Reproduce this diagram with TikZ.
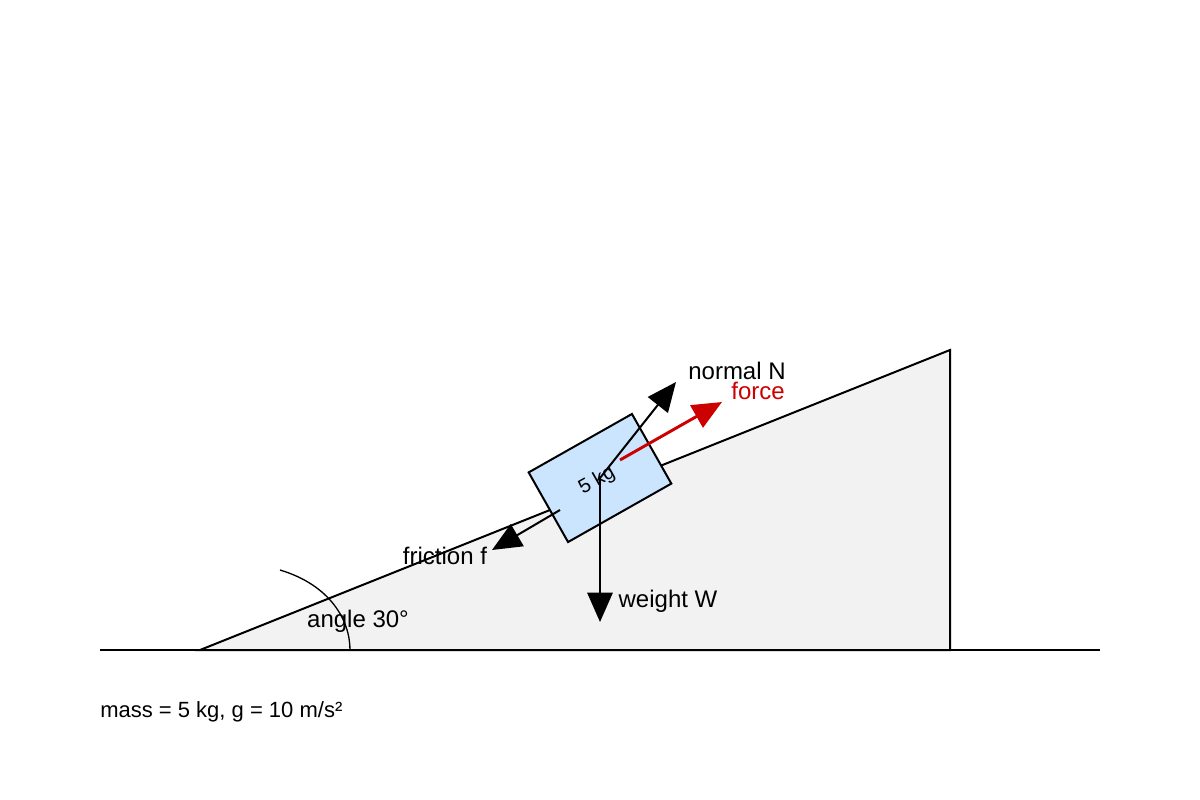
\documentclass[tikz,border=0pt]{standalone}
\usepackage{fontspec}
\setmainfont{Liberation Sans}
\usetikzlibrary{arrows.meta}
\definecolor{fred}{RGB}{204,0,0}
\definecolor{blkfill}{RGB}{204,229,255}
\begin{document}
\begin{tikzpicture}[x=0.75pt,y=-0.75pt,
  ln/.style={line width=1.5pt},
  vec/.style={line width=1.5pt,-{Triangle[length=22pt,width=19pt]}},
  lbl/.style={font=\fontsize{18}{20}\selectfont,inner sep=0pt}]
\useasboundingbox (0,0) rectangle (1200,800);
\coordinate (g1) at (100,650); \coordinate (g2) at (1100,650);
\draw[ln] (g1) -- (g2);
\draw[ln,fill=black!5,line join=miter] (200,650) -- (950,350) -- (950,650) -- cycle;
\coordinate (a1) at (280,570); \coordinate (a2) at (350,650);
\draw[line width=1pt] (a1) .. controls (330,585) and (350,620) .. (a2);
\node[lbl] (ang) at (358,621) {angle 30°};
\node[draw=black,line width=1.5pt,fill=blkfill,minimum width=89pt,minimum height=60pt,rotate=29.5,inner sep=0pt] (blk) at (600,478) {};
\node[rotate=29.5,font=\fontsize{15}{17}\selectfont,inner sep=0pt] (bl) at (597,481) {5 kg};
\coordinate (c) at (600,478);
\coordinate (nt) at (676,382); \coordinate (ft) at (722,402);
\coordinate (ws) at (600,476); \coordinate (wt) at (600,622);
\coordinate (fs) at (560,510); \coordinate (frt) at (492,550);
\coordinate (fos) at (620,460);
\draw[vec] (c) -- (nt);
\draw[vec,fred,line width=2.2pt] (fos) -- (ft);
\draw[vec] (ws) -- (wt);
\draw[vec] (fs) -- (frt);
\node[lbl] (nl) at (737,371) {normal N};
\node[lbl,text=fred] (fl) at (758,391) {force};
\node[lbl] (frl) at (445,556) {friction f};
\node[lbl] (wl) at (668,601) {weight W};
\node[font=\fontsize{16.5}{18}\selectfont,inner sep=0pt,anchor=west] (m) at (100,712) {mass = 5 kg, g = 10 m/s²};
\end{tikzpicture}
\end{document}
